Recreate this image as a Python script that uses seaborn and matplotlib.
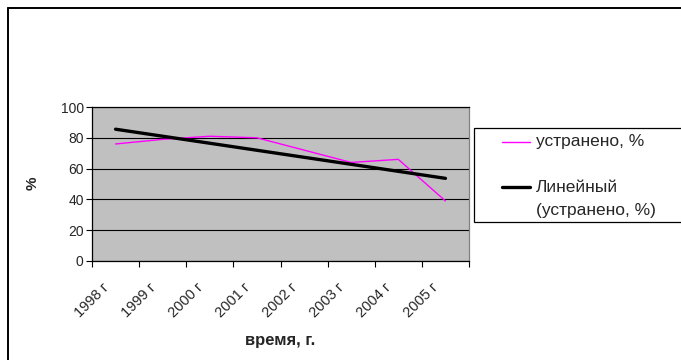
import numpy as np
import pandas as pd
import matplotlib
matplotlib.use("Agg")
import matplotlib.pyplot as plt
from matplotlib.lines import Line2D
from matplotlib.patches import Rectangle
from matplotlib.transforms import ScaledTranslation
import seaborn as sns

# Share of eliminated violations by year
years = ["1998 г", "1999 г", "2000 г", "2001 г", "2002 г", "2003 г", "2004 г", "2005 г"]
eliminated = [76, 79, 81, 80, 72, 64, 66, 39]
y_ticks = [0, 20, 40, 60, 80, 100]

series_label = "устранено, %"
trend_label = ["Линейный", "(устранено, %)"]
x_title = "время, г."
y_title = "%"

sns.set_style("white")
plt.rcParams["font.family"] = ["Liberation Sans", "DejaVu Sans"]

W, H = 681, 360
df = pd.DataFrame({"pos": np.arange(len(years)), "val": eliminated})

fig = plt.figure(figsize=(W / 100, H / 100), dpi=100)
ax = fig.add_axes([92 / W, 99 / H, 377 / W, 154 / H])
ax.set_facecolor("#C0C0C0")

# gridlines behind the data
ax.set_axisbelow(True)
ax.yaxis.grid(True, color="black", lw=0.8)
ax.xaxis.grid(False)

sns.lineplot(data=df, x="pos", y="val", ax=ax, color="#FF00FF", lw=1.0,
             legend=False)
sns.regplot(data=df, x="pos", y="val", ax=ax, scatter=False, ci=None,
            truncate=True, color="black", line_kws={"lw": 2.4})

ax.set_ylim(0, 100)
ax.set_yticks(y_ticks)
ax.set_xlim(-0.5, len(years) - 0.5)
ax.set_xticks(np.arange(-0.5, len(years), 1.0))
ax.set_xticklabels([])
ax.set_xticks(np.arange(len(years)), minor=True)
ax.set_xticklabels(years, minor=True, rotation=45, ha="right",
                   rotation_mode="anchor", fontsize=10.5)
ax.tick_params(axis="x", which="major", length=4, width=0.8, color="black",
               direction="out", bottom=True)
ax.tick_params(axis="x", which="minor", length=0, pad=6)
ax.tick_params(axis="y", length=4, width=0.8, color="black", direction="out",
               left=True, labelsize=10, pad=2)
shift = ScaledTranslation(-14 / 100, -11 / 100, fig.dpi_scale_trans)
for lab in ax.get_xticklabels(minor=True):
    lab.set_transform(lab.get_transform() + shift)

for side in ("left", "bottom", "top"):
    ax.spines[side].set_color("black")
    ax.spines[side].set_linewidth(0.9)
ax.spines["right"].set_color("#808080")
ax.spines["right"].set_linewidth(0.9)

ax.set_ylabel(y_title, fontweight="bold", fontsize=11)
ax.yaxis.label.set_va("center")
ax.yaxis.set_label_coords((33 - 92) / 377, (261 - 183) / 154)
ax.set_xlabel(x_title, fontweight="bold", fontsize=12)
ax.xaxis.label.set_va("center")
ax.xaxis.set_label_coords(0.5, (261 - 341) / 154)

# legend box (runs past the right edge of the figure)
def fx(px):
    return px / W

def fy(py):
    return 1 - py / H

fig.add_artist(Rectangle((fx(474), fy(222)), fx(700) - fx(474), fy(128) - fy(222),
                         transform=fig.transFigure, facecolor="white",
                         edgecolor="black", lw=0.9))
fig.add_artist(Line2D([fx(502), fx(530)], [fy(142), fy(142)], color="#FF00FF",
                      lw=1.0, transform=fig.transFigure))
fig.text(fx(536), fy(142), series_label, fontsize=12.5, va="center", ha="left")
fig.add_artist(Line2D([fx(502), fx(530)], [fy(187), fy(187)], color="black",
                      lw=2.4, transform=fig.transFigure))
fig.text(fx(536), fy(188), trend_label[0], fontsize=12.5, va="center", ha="left")
fig.text(fx(536), fy(210), trend_label[1], fontsize=12.5, va="center", ha="left")

# outer frame of the chart area
fig.add_artist(Line2D([8 / W, 8 / W], [0, 1 - 8 / H], color="black", lw=1.4,
                      transform=fig.transFigure))
fig.add_artist(Line2D([8 / W, 1], [1 - 8 / H, 1 - 8 / H], color="black", lw=1.4,
                      transform=fig.transFigure))

fig.savefig("out.png", dpi=100)
